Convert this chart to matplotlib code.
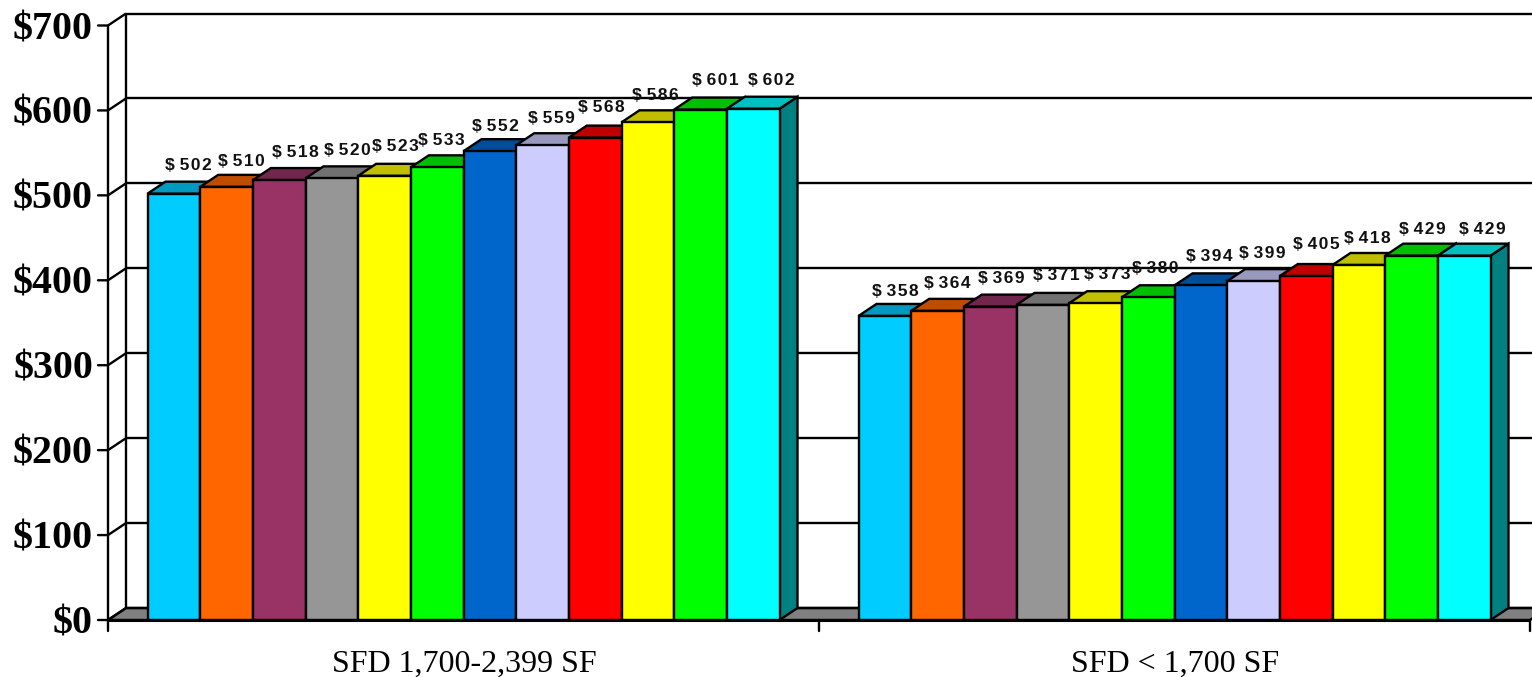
import matplotlib
matplotlib.use('Agg')
import matplotlib.pyplot as plt
from matplotlib.colors import to_rgb
from matplotlib.patches import Polygon

# Data
categories = ['SFD 1,700-2,399 SF', 'SFD < 1,700 SF']
large_values = [502, 510, 518, 520, 523, 533, 552, 559, 568, 586, 601, 602]
small_values = [358, 364, 369, 371, 373, 380, 394, 399, 405, 418, 429, 429]
y_ticks = [0, 100, 200, 300, 400, 500, 600, 700]
bar_colors = ['#00CCFF', '#FF6600', '#993366', '#969696', '#FFFF00', '#00FF00',
              '#0066CC', '#CCCCFF', '#FF0000', '#FFFF00', '#00FF00', '#00FFFF']

# Label nudges in pixels, the original labels were not centred exactly
large_nudge_x = [5.7, 6, 7.3, 6.7, 2, -4.7, -3.3, 0, -2.7, -1.3, 6, 9.3]
large_nudge_y = [16, 13, 16, 16, 17, 15, 13, 15, 18, 15, 17, 16]
small_nudge_x = [1.7, 1, 2.3, 4.7, 3, -1.7, -0.3, 0, 1.3, -0.3, 2, 9.3]
small_nudge_y = [12, 15, 16, 17, 17, 17, 17, 16, 20, 14, 14, 14]

W, H = 1532, 677
GROUP_WIDTH = 13.5
PAD = 0.75
DEPTH_X = 18 / (1422 / 27)
DEPTH_Y = 12 / (594.5 / 700)
LW = 1.7


def shade(color, factor):
    return tuple(c * factor for c in to_rgb(color))


def line(ax, xs, ys, lw=LW):
    ax.plot(xs, ys, color='black', lw=lw, clip_on=False, solid_capstyle='butt', zorder=1)


def draw_bar(ax, x, value, color):
    front = [(x, 0), (x + 1, 0), (x + 1, value), (x, value)]
    top = [(x, value), (x + 1, value), (x + 1 + DEPTH_X, value + DEPTH_Y), (x + DEPTH_X, value + DEPTH_Y)]
    side = [(x + 1, 0), (x + 1 + DEPTH_X, DEPTH_Y), (x + 1 + DEPTH_X, value + DEPTH_Y), (x + 1, value)]
    for pts, col in ((side, shade(color, 0.5)), (top, shade(color, 0.75)), (front, color)):
        ax.add_patch(Polygon(pts, closed=True, facecolor=col, edgecolor='black', lw=LW,
                             joinstyle='miter', clip_on=False, zorder=2))


fig = plt.figure(figsize=(W / 100, H / 100), dpi=100)
ax = fig.add_axes([108 / W, (H - 620) / H, 1422 / W, 594.5 / H])
ax.set_xlim(0, 2 * GROUP_WIDTH)
ax.set_ylim(0, 700)
ax.axis('off')

# Floor of the 3D box
x_end = 2 * GROUP_WIDTH
ax.add_patch(Polygon([(0, 0), (x_end, 0), (x_end + DEPTH_X, DEPTH_Y), (DEPTH_X, DEPTH_Y)],
                     closed=True, facecolor='#808080', edgecolor='black', lw=LW, clip_on=False, zorder=1))

# Back wall grid and the value axis
for tick in y_ticks:
    line(ax, [0, DEPTH_X], [tick, tick + DEPTH_Y])
    line(ax, [DEPTH_X, x_end + DEPTH_X], [tick + DEPTH_Y, tick + DEPTH_Y])
    ax.annotate(f'${tick}', xy=(0, tick), xytext=(-15, -4), textcoords='offset pixels',
                ha='right', va='center', family='Liberation Serif', weight='bold',
                fontsize=28.8, annotation_clip=False)
    ax.annotate('', xy=(0, tick), xytext=(-10, 0), textcoords='offset pixels',
                arrowprops=dict(arrowstyle='-', lw=LW, color='black', shrinkA=0, shrinkB=0),
                annotation_clip=False)
line(ax, [0, 0], [0, 700])
line(ax, [DEPTH_X, DEPTH_X], [DEPTH_Y, 700 + DEPTH_Y])

# Category ticks below the axis
for g in range(3):
    ax.annotate('', xy=(g * GROUP_WIDTH, 0), xytext=(0, -11), textcoords='offset pixels',
                arrowprops=dict(arrowstyle='-', lw=LW, color='black', shrinkA=0, shrinkB=0),
                annotation_clip=False)

groups = [(large_values, large_nudge_x, large_nudge_y), (small_values, small_nudge_x, small_nudge_y)]
for g, (values, nudge_x, nudge_y) in enumerate(groups):
    start = g * GROUP_WIDTH + PAD
    for i, value in enumerate(values):
        x = start + i
        draw_bar(ax, x, value, bar_colors[i])
        label = '$ ' + '\u200a'.join(str(value))
        ax.annotate(label, xy=(x + 0.5 + DEPTH_X / 2, value + DEPTH_Y),
                    xytext=(nudge_x[i], nudge_y[i]), textcoords='offset pixels',
                    ha='center', va='center', family='Liberation Sans', weight='bold',
                    fontsize=12.5, color='#111111', annotation_clip=False, zorder=3)
    ax.annotate(categories[g], xy=((g + 0.5) * GROUP_WIDTH, 0), xytext=(1, -44),
                textcoords='offset pixels', ha='center', va='center',
                family='Liberation Serif', fontsize=23, annotation_clip=False)

# Thick front edge of the floor
ax.plot([0, x_end], [0, 0], color='black', lw=2.2, clip_on=False, zorder=4, solid_capstyle='butt')

fig.savefig('out.png', dpi=100)
plt.close(fig)
